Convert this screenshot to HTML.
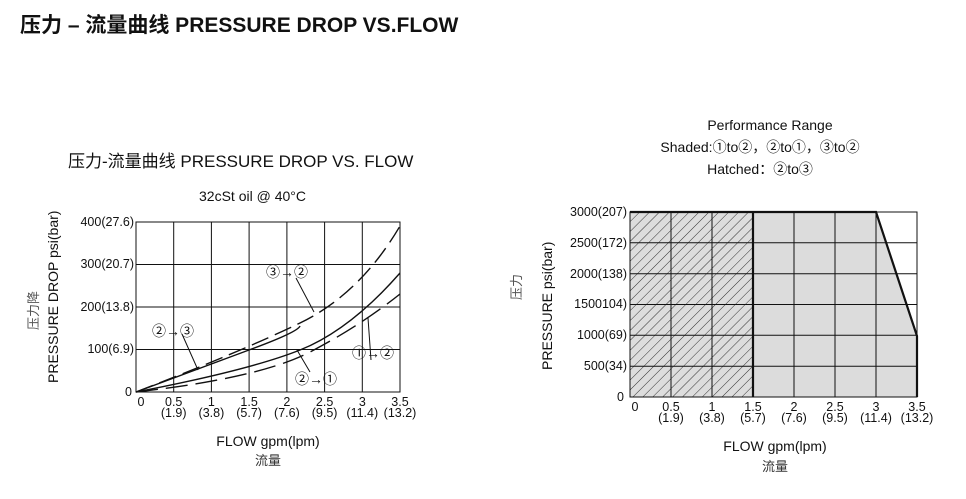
<!DOCTYPE html><html><head><meta charset="utf-8"><style>
body{margin:0;background:#fff;width:966px;height:494px;overflow:hidden;font-family:"Liberation Sans","Noto Sans CJK SC",sans-serif;}
</style></head><body>
<svg width="966" height="494" xmlns="http://www.w3.org/2000/svg" font-family="Liberation Sans, Noto Sans CJK SC, sans-serif">
<text x="20" y="32" font-size="21" font-weight="bold" fill="#111">压力 – 流量曲线 PRESSURE DROP VS.FLOW</text>
<!-- left chart -->
<text x="68" y="167" font-size="17" fill="#111">压力-流量曲线 PRESSURE DROP VS. FLOW</text>
<text x="199" y="201" font-size="14" fill="#111">32cSt  oil @ 40°C</text>
<g stroke="#111" stroke-width="1" fill="none">
<rect x="136" y="222" width="264" height="170"/>
<path d="M173.7 222V392M211.4 222V392M249.1 222V392M286.9 222V392M324.6 222V392M362.3 222V392M136 264.5H400M136 307H400M136 349.5H400"/>
</g>
<g stroke="#111" stroke-width="1.4" fill="none">
<path d="M136 392 Q200 368 249 350 T300 326" />
<path d="M136 392 Q240 352 300 323 T400 226" stroke-dasharray="18,7"/>
<path d="M136 392 Q250 370 300 350 T400 273"/>
<path d="M136 392 Q260 378 310 352 T400 294" stroke-dasharray="22,8"/>
<path d="M182 334 L198 370 M296 278 L314 312 M371 360 L368 318 M310 372 L297 350" stroke-width="1"/>
</g>
<g font-size="12.5" fill="#111" text-anchor="end">
<text x="134" y="226">400(27.6)</text><text x="134" y="268">300(20.7)</text><text x="134" y="311">200(13.8)</text><text x="134" y="353">100(6.9)</text><text x="132" y="396">0</text>
</g>
<g font-size="14" fill="#111">
<text x="152" y="336">②→③</text><text x="266" y="277">③→②</text><text x="295" y="384">②→①</text><text x="352" y="358">①→②</text>
</g>
<g font-size="12.5" fill="#111" text-anchor="middle">
<text x="141" y="406">0</text><text x="173.7" y="406">0.5</text><text x="211.4" y="406">1</text><text x="249.1" y="406">1.5</text><text x="286.9" y="406">2</text><text x="324.6" y="406">2.5</text><text x="362.3" y="406">3</text><text x="400" y="406">3.5</text>
<text x="173.7" y="417">(1.9)</text><text x="211.4" y="417">(3.8)</text><text x="249.1" y="417">(5.7)</text><text x="286.9" y="417">(7.6)</text><text x="324.6" y="417">(9.5)</text><text x="362.3" y="417">(11.4)</text><text x="400" y="417">(13.2)</text>
</g>
<text x="268" y="446" font-size="14" text-anchor="middle" fill="#111">FLOW gpm(lpm)</text>
<text x="268" y="465" font-size="13" text-anchor="middle" fill="#333">流量</text>
<text transform="translate(58,383) rotate(-90)" font-size="14" fill="#111">PRESSURE DROP psi(bar)</text>
<text transform="translate(38,330) rotate(-90)" font-size="13" fill="#555">压力降</text>
<!-- right chart -->
<text x="770" y="130" font-size="14" text-anchor="middle" fill="#111">Performance Range</text>
<text x="760" y="152" font-size="14" text-anchor="middle" fill="#111">Shaded:①to②，②to①，③to②</text>
<text x="760" y="174" font-size="14" text-anchor="middle" fill="#111">Hatched：②to③</text>
<defs><pattern id="h" width="7" height="7" patternUnits="userSpaceOnUse" patternTransform="rotate(45)"><rect width="7" height="7" fill="#ddd"/><line x1="0" y1="0" x2="0" y2="7" stroke="#333" stroke-width="1"/></pattern></defs>
<path d="M630 212H876L917 336V397H630Z" fill="#dcdcdc"/>
<rect x="630" y="212" width="123" height="185" fill="url(#h)"/>
<g stroke="#111" stroke-width="1" fill="none">
<rect x="630" y="212" width="287" height="185"/>
<path d="M671 212V397M712 212V397M794 212V397M835 212V397M876 212V397M630 242.8H917M630 273.7H917M630 304.5H917M630 335.3H917M630 366.2H917"/>
</g>
<path d="M630 212H876L917 336V397M753 212V397" stroke="#111" stroke-width="2.2" fill="none"/>
<g font-size="12.5" fill="#111" text-anchor="end">
<text x="627" y="216">3000(207)</text><text x="627" y="247">2500(172)</text><text x="627" y="278">2000(138)</text><text x="627" y="308">1500104)</text><text x="627" y="339">1000(69)</text><text x="627" y="370">500(34)</text><text x="624" y="401">0</text>
</g>
<g font-size="12.5" fill="#111" text-anchor="middle">
<text x="635" y="411">0</text><text x="671" y="411">0.5</text><text x="712" y="411">1</text><text x="753" y="411">1.5</text><text x="794" y="411">2</text><text x="835" y="411">2.5</text><text x="876" y="411">3</text><text x="917" y="411">3.5</text>
<text x="671" y="422">(1.9)</text><text x="712" y="422">(3.8)</text><text x="753" y="422">(5.7)</text><text x="794" y="422">(7.6)</text><text x="835" y="422">(9.5)</text><text x="876" y="422">(11.4)</text><text x="917" y="422">(13.2)</text>
</g>
<text x="775" y="451" font-size="14" text-anchor="middle" fill="#111">FLOW gpm(lpm)</text>
<text x="775" y="471" font-size="13" text-anchor="middle" fill="#333">流量</text>
<text transform="translate(552,370) rotate(-90)" font-size="14" fill="#111">PRESSURE  psi(bar)</text>
<text transform="translate(521,300) rotate(-90)" font-size="13" fill="#555">压力</text>
</svg>
</body></html>
